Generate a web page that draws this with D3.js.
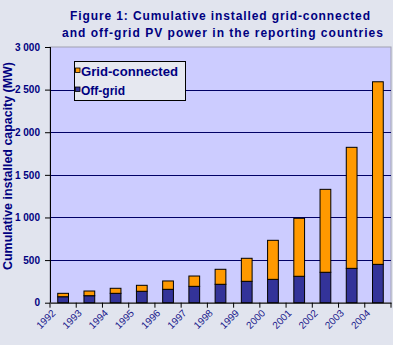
<!DOCTYPE html>
<html><head><meta charset="utf-8">
<script src="https://cdn.jsdelivr.net/npm/d3@7"></script>
<style>body{margin:0;background:#e1e4ee;}svg{display:block;font-family:Arial,"Liberation Sans",sans-serif;}</style>
</head><body><svg id="c" width="393" height="345"></svg>
<script>
const years = ["1992","1993","1994","1995","1996","1997","1998","1999","2000","2001","2002","2003","2004"];
const offGrid = [70, 82, 110, 134, 157, 192, 216, 251, 274, 310, 357, 403, 450];
const gridConnected = [40, 55, 59, 70, 98, 121, 176, 270, 458, 680, 973, 1420, 2142];
const yTicks = [0, 500, 1000, 1500, 2000, 2500, 3000];
const seriesNames = ["Grid-connected", "Off-grid"];
const colors = {"Off-grid": "#333399", "Grid-connected": "#ff9900"};

const svg = d3.select("#c");
const L = 50, R = 391, T = 47, B = 302.7;
const x = d3.scaleBand().domain(years).range([L, R]).paddingInner(0.59).paddingOuter(0.295);
const y = d3.scaleLinear().domain([0, 3000]).range([B, T]);
const navy = "#000080";

svg.append("rect").attr("width",393).attr("height",345).attr("fill","#e1e4ee");
svg.append("rect").attr("x",L).attr("y",T).attr("width",R-L).attr("height",B-T)
  .attr("fill","#ccccff").attr("stroke","#a0a0b0").attr("stroke-width",1);

// gridlines
svg.append("g").selectAll("line").data(yTicks.filter(d=>d>0 && d<3000)).join("line")
  .attr("x1",L).attr("x2",R).attr("y1",d=>Math.round(y(d))+0.5).attr("y2",d=>Math.round(y(d))+0.5)
  .attr("stroke","#000066").attr("stroke-width",1);

// bars
const data = years.map((yr,i)=>({yr, off:offGrid[i], grid:gridConnected[i]}));
const stack = d3.stack().keys(["off","grid"])(data);
svg.append("g").selectAll("g").data(stack).join("g")
  .attr("fill",(d,i)=> i===0 ? colors["Off-grid"] : colors["Grid-connected"])
  .selectAll("rect").data(d=>d).join("rect")
  .attr("x",d=>x(d.data.yr)).attr("width",x.bandwidth())
  .attr("y",d=>y(d[1])).attr("height",d=>y(d[0])-y(d[1]))
  .attr("stroke","#000").attr("stroke-width",1);

// y axis
const ya = svg.append("g").attr("transform",`translate(${L},0)`)
  .call(d3.axisLeft(y).tickValues(yTicks).tickSize(5).tickPadding(5)
    .tickFormat(d=>d3.format(",")(d).replace(",", " ")));
ya.select(".domain").attr("stroke","#000").attr("d",`M0.5,${T}V${B}`);
ya.selectAll(".tick line").attr("stroke","#000");
ya.selectAll("text").attr("fill",navy).attr("font-size","10px").attr("font-weight","bold")
  .attr("font-family","Arial, 'Liberation Sans', sans-serif");

// x axis
const xa = svg.append("g").attr("transform",`translate(0,${B})`)
  .call(d3.axisBottom(x).tickSize(0).tickPadding(0));
xa.select(".domain").attr("stroke","#000");
const step = x.step();
svg.append("g").selectAll("line").data(d3.range(years.length+1)).join("line")
  .attr("x1",i=>L+i*step).attr("x2",i=>L+i*step).attr("y1",B).attr("y2",B+5).attr("stroke","#000");
xa.selectAll("text").attr("fill","#1a1a8c").attr("font-size","10px")
  .attr("font-family","Arial, 'Liberation Sans', sans-serif")
  .attr("text-anchor","end").attr("dy",null)
  .attr("transform","translate(-7,11) rotate(-45)");

// title
const title = ["Figure 1: Cumulative installed grid-connected","and off-grid PV power in the reporting countries"];
const tx = [[70,300],[62,321]];
svg.append("g").selectAll("text").data(title).join("text")
  .attr("x",(d,i)=>tx[i][0]).attr("y",(d,i)=>i===0?20:37)
  .attr("textLength",(d,i)=>tx[i][1]).attr("lengthAdjust","spacing")
  .attr("fill",navy).attr("font-size","12px").attr("font-weight","bold").text(d=>d);

// y title
svg.append("text").attr("transform","translate(12,166) rotate(-90)")
  .attr("text-anchor","middle").attr("fill",navy).attr("font-size","12px").attr("font-weight","bold")
  .attr("textLength",208).attr("lengthAdjust","spacingAndGlyphs")
  .text("Cumulative installed capacity (MW)");

// legend
const lg = svg.append("g");
lg.append("rect").attr("x",74.5).attr("y",61.5).attr("width",111).attr("height",39)
  .attr("fill","#e6e8f0").attr("stroke","#000");
const li = lg.selectAll("g").data(seriesNames).join("g")
  .attr("transform",(d,i)=>`translate(0,${i*19})`);
li.append("rect").attr("x",75.5).attr("y",68).attr("width",4.5).attr("height",4.5)
  .attr("fill",d=>colors[d]).attr("stroke","#000").attr("stroke-width",0.8);
li.append("text").attr("x",81).attr("y",76).attr("fill",navy).attr("font-size","12px")
  .attr("font-weight","bold")
  .attr("textLength",(d,i)=>i===0?97:44).attr("lengthAdjust","spacingAndGlyphs")
  .text(d=>d);
</script></body></html>
